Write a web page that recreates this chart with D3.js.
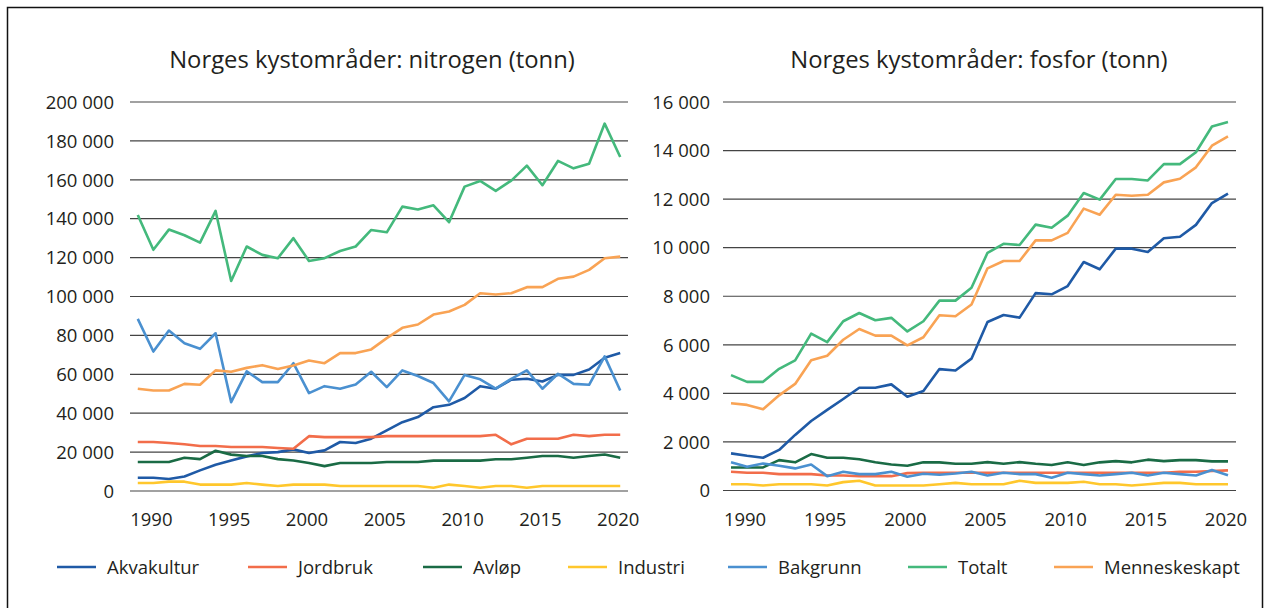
<!DOCTYPE html>
<html><head><meta charset="utf-8">
<script src="https://cdn.jsdelivr.net/npm/d3@7"></script>
<style>
html,body{margin:0;padding:0;background:#fff;}
text{font-family:"Open Sans",sans-serif;fill:#231f20;}
</style></head>
<body>
<svg id="chart" width="1270" height="608"></svg>
<script>
const years = [1989,1990,1991,1992,1993,1994,1995,1996,1997,1998,1999,2000,2001,2002,2003,2004,2005,2006,2007,2008,2009,2010,2011,2012,2013,2014,2015,2016,2017,2018,2019,2020];
const xTickYears = [1990,1995,2000,2005,2010,2015,2020];
const nTicks = [0,20000,40000,60000,80000,100000,120000,140000,160000,180000,200000];
const pTicks = [0,2000,4000,6000,8000,10000,12000,14000,16000];
const seriesNames = ["Akvakultur","Jordbruk","Avløp","Industri","Bakgrunn","Totalt","Menneskeskapt"];
const seriesColors = ["#1f5aa6","#f26d4a","#1a6b45","#ffc72c","#4a90d0","#44b97c","#f9a354"];

const nAkvakultur = [6800,6800,6200,7500,10600,13500,15700,17800,19500,20000,21400,19500,20900,25200,24700,26900,31200,35400,38000,43100,44300,47800,53900,52600,57200,57700,56300,59700,59700,62500,68500,70900];
const nJordbruk = [25200,25200,24700,24000,23100,23100,22600,22600,22600,22100,21700,28200,27700,27700,27700,27700,28200,28200,28200,28200,28200,28200,28200,28900,24000,26900,26900,26900,28900,28200,28900,28900];
const nAvlop = [14900,14900,14900,17100,16400,20700,18700,18000,18000,16400,15700,14400,12800,14400,14400,14400,14900,14900,14900,15600,15600,15600,15600,16300,16300,17100,18000,18000,17100,18000,18800,17100];
const nIndustri = [4100,4100,4800,4800,3300,3300,3300,4100,3300,2600,3300,3300,3300,2600,2600,2600,2600,2600,2600,1700,3300,2600,1700,2600,2600,1700,2600,2600,2600,2600,2600,2600];
const nBakgrunn = [88500,71700,82500,76000,73100,81100,45700,61500,56000,56000,65700,50300,53900,52600,54800,61300,53400,62000,59100,55500,46100,59700,57400,52600,57700,62000,52600,60300,55100,54600,69200,51700];
const nTotalt = [141900,124000,134400,131500,127700,144000,108000,125700,121400,119700,130000,118300,119700,123400,125700,134200,133000,146200,144700,146900,138200,156500,159400,154300,159600,167300,157200,169700,165900,168300,188900,171700];
const nMenneskeskapt = [52600,51700,51700,55100,54600,62000,61300,63300,64700,62700,64500,67100,65700,70900,70900,72800,78600,83900,85600,90700,92300,95700,101700,101000,101700,104800,104800,109100,110200,113700,119700,120500];

const pAkvakultur = [1530,1430,1350,1670,2290,2860,3320,3770,4230,4230,4370,3860,4100,5000,4940,5430,6940,7230,7120,8130,8080,8420,9410,9110,9960,9960,9820,10390,10450,10940,11840,12230];
const pJordbruk = [770,730,730,675,675,675,620,620,590,590,590,715,730,730,730,730,730,730,730,730,730,730,730,730,730,730,730,730,770,770,800,830];
const pAvlop = [950,950,950,1250,1160,1500,1350,1350,1290,1160,1070,1020,1160,1160,1100,1100,1170,1100,1170,1100,1050,1160,1050,1160,1210,1160,1270,1210,1250,1250,1200,1200];
const pIndustri = [260,260,205,260,260,260,205,345,400,205,205,205,205,260,315,260,260,260,400,315,315,315,360,260,260,205,260,315,315,260,260,260];
const pBakgrunn = [1160,980,1115,1020,910,1070,590,770,675,675,770,565,690,650,700,770,620,730,675,675,525,730,675,620,675,730,620,730,675,620,840,630];
const pTotalt = [4750,4475,4475,5010,5360,6460,6110,6970,7310,7010,7110,6550,6970,7820,7820,8350,9790,10160,10110,10950,10820,11320,12250,11980,12830,12830,12770,13440,13440,13930,14990,15180];
const pMenneskeskapt = [3590,3525,3345,3920,4390,5360,5550,6210,6650,6380,6380,5980,6310,7215,7175,7660,9150,9450,9450,10300,10300,10610,11610,11360,12180,12140,12180,12690,12840,13310,14200,14580];

const nSeries = [nAkvakultur,nJordbruk,nAvlop,nIndustri,nBakgrunn,nTotalt,nMenneskeskapt];
const pSeries = [pAkvakultur,pJordbruk,pAvlop,pIndustri,pBakgrunn,pTotalt,pMenneskeskapt];

const svg = d3.select("#chart");
const loc = d3.formatLocale({decimal:",", thousands:" ", grouping:[3], currency:["",""]});
const fmt = loc.format(",d");

// frame
svg.append("path").attr("d","M7.5,608 V7.5 H1262.5 V608").attr("fill","none").attr("stroke","#111").attr("stroke-width",1.5);

function panel(cfg){
  const x = d3.scaleBand().domain(years).range(cfg.xr).padding(0);
  const y = d3.scaleLinear().domain(cfg.yd).range(cfg.yr);
  const g = svg.append("g");
  g.selectAll("line.grid").data(cfg.ticks).join("line")
    .attr("x1",cfg.xr[0]).attr("x2",cfg.xr[1])
    .attr("y1",d=>y(d)).attr("y2",d=>y(d))
    .attr("stroke","#444").attr("stroke-width",1.2);
  const ya = d3.axisLeft(y).tickValues(cfg.ticks).tickFormat(fmt).tickSize(0).tickPadding(0);
  const yg = g.append("g").attr("transform",`translate(${cfg.labelX},0)`).call(ya);
  yg.select(".domain").remove();
  yg.selectAll("text").attr("font-size","18.5px").attr("font-family","Open Sans").attr("fill","#231f20").attr("dy","0.34em");
  const xa = d3.axisBottom(x).tickValues(xTickYears).tickSize(0).tickPadding(0);
  const xg = g.append("g").attr("transform",`translate(-2,${cfg.xLabelY})`).call(xa);
  xg.select(".domain").remove();
  xg.selectAll("text").attr("font-size","18.5px").attr("font-family","Open Sans").attr("fill","#231f20").attr("dy","0").attr("y",0);
  const line = d3.line().x((d,i)=>x(years[i])+x.bandwidth()/2).y(d=>y(d));
  cfg.series.forEach((s,k)=>{
    g.append("path").datum(s).attr("d",line).attr("fill","none")
      .attr("stroke",seriesColors[k]).attr("stroke-width",2.6).attr("stroke-linejoin","round");
  });
  g.append("text").attr("x",cfg.titleX).attr("y",68).attr("text-anchor","middle")
    .attr("font-size","23.8px").text(cfg.title);
}

panel({xr:[130,628], yd:[0,200000], yr:[491,102], ticks:nTicks, labelX:114, xLabelY:526,
       series:nSeries, title:"Norges kystområder: nitrogen (tonn)", titleX:372});
panel({xr:[723,1236], yd:[0,16000], yr:[490.5,102], ticks:pTicks, labelX:710, xLabelY:526,
       series:pSeries, title:"Norges kystområder: fosfor (tonn)", titleX:979});

const legX = [57,248,423,568,728,908,1054];
const lg = svg.append("g");
seriesNames.forEach((nm,i)=>{
  lg.append("line").attr("x1",legX[i]).attr("x2",legX[i]+39).attr("y1",567).attr("y2",567)
    .attr("stroke",seriesColors[i]).attr("stroke-width",2.6);
  lg.append("text").attr("x",legX[i]+50).attr("y",573.5).attr("font-size","18.5px").text(nm);
});
</script>
</body></html>
